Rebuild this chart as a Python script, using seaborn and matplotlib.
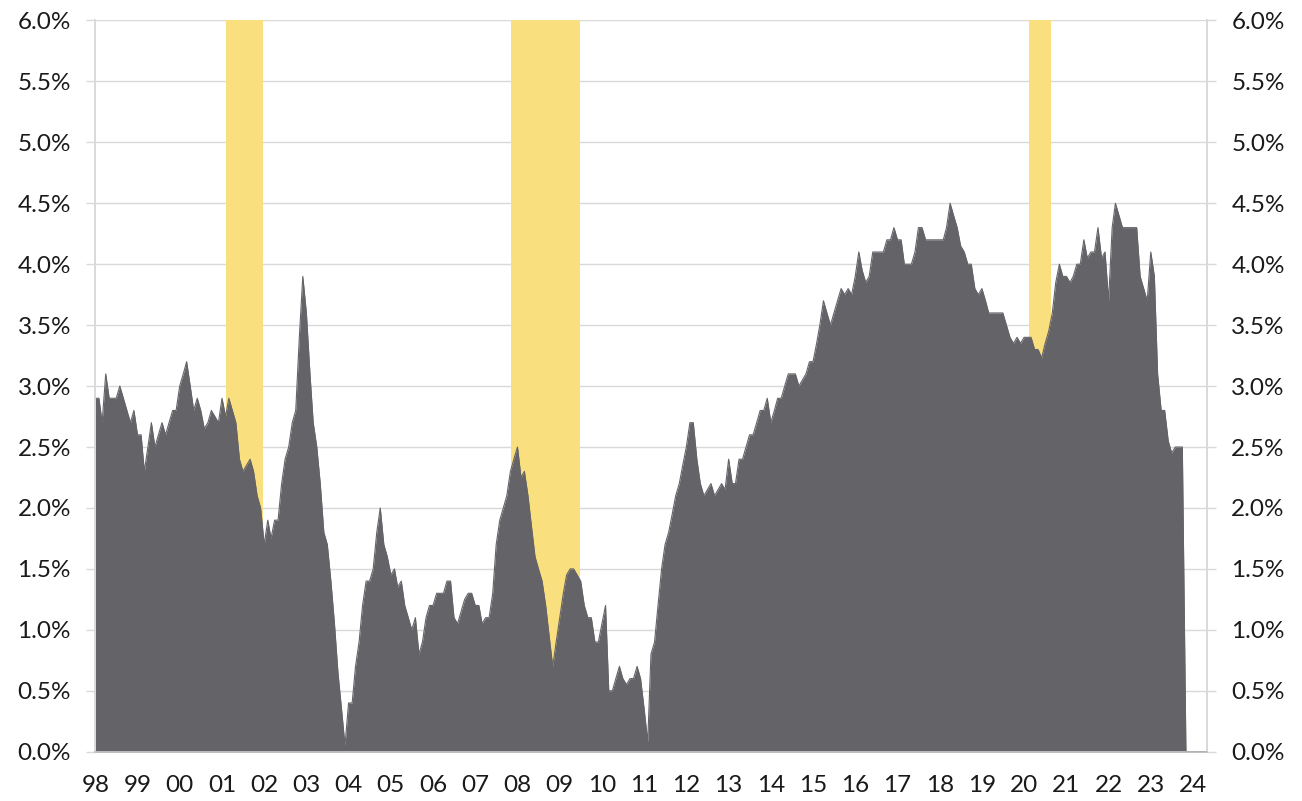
import matplotlib
matplotlib.use("Agg")
import matplotlib.pyplot as plt
from matplotlib.ticker import FuncFormatter, MultipleLocator
import numpy as np
import pandas as pd
import seaborn as sns

# Monthly rate (%) from January 1998, one list per year
y1998 = [2.9, 2.9, 2.7, 3.1, 2.9, 2.9, 2.9, 3.0, 2.9, 2.8, 2.7, 2.8]
y1999 = [2.6, 2.6, 2.3, 2.5, 2.7, 2.5, 2.6, 2.7, 2.6, 2.7, 2.8, 2.8]
y2000 = [3.0, 3.1, 3.2, 3.0, 2.8, 2.9, 2.8, 2.65, 2.7, 2.8, 2.75, 2.7]
y2001 = [2.9, 2.75, 2.9, 2.8, 2.7, 2.4, 2.3, 2.35, 2.4, 2.3, 2.1, 2.0]
y2002 = [1.7, 1.9, 1.75, 1.9, 1.9, 2.2, 2.4, 2.5, 2.7, 2.8, 3.4, 3.9]
y2003 = [3.6, 3.1, 2.7, 2.5, 2.2, 1.8, 1.7, 1.4, 1.05, 0.65, 0.35, 0.05]
y2004 = [0.4, 0.4, 0.7, 0.9, 1.2, 1.4, 1.4, 1.5, 1.8, 2.0, 1.7, 1.6]
y2005 = [1.45, 1.5, 1.35, 1.4, 1.2, 1.1, 1.0, 1.1, 0.8, 0.9, 1.1, 1.2]
y2006 = [1.2, 1.3, 1.3, 1.3, 1.4, 1.4, 1.1, 1.05, 1.15, 1.25, 1.3, 1.3]
y2007 = [1.2, 1.2, 1.05, 1.1, 1.1, 1.3, 1.7, 1.9, 2.0, 2.1, 2.3, 2.4]
y2008 = [2.5, 2.25, 2.3, 2.1, 1.85, 1.6, 1.5, 1.4, 1.2, 0.95, 0.7, 0.9]
y2009 = [1.1, 1.3, 1.45, 1.5, 1.5, 1.45, 1.4, 1.2, 1.1, 1.1, 0.9, 0.9]
y2010 = [1.05, 1.2, 0.5, 0.5, 0.6, 0.7, 0.6, 0.55, 0.6, 0.6, 0.7, 0.6]
y2011 = [0.35, 0.08, 0.8, 0.9, 1.2, 1.5, 1.7, 1.8, 1.95, 2.1, 2.2, 2.35]
y2012 = [2.5, 2.7, 2.7, 2.4, 2.2, 2.1, 2.15, 2.2, 2.1, 2.15, 2.2, 2.15]
y2013 = [2.4, 2.2, 2.2, 2.4, 2.4, 2.5, 2.6, 2.6, 2.7, 2.8, 2.8, 2.9]
y2014 = [2.7, 2.8, 2.9, 2.9, 3.0, 3.1, 3.1, 3.1, 3.0, 3.05, 3.1, 3.2]
y2015 = [3.2, 3.35, 3.5, 3.7, 3.6, 3.5, 3.6, 3.7, 3.8, 3.75, 3.8, 3.75]
y2016 = [3.9, 4.1, 3.95, 3.85, 3.9, 4.1, 4.1, 4.1, 4.1, 4.2, 4.2, 4.3]
y2017 = [4.2, 4.2, 4.0, 4.0, 4.0, 4.1, 4.3, 4.3, 4.2, 4.2, 4.2, 4.2]
y2018 = [4.2, 4.2, 4.3, 4.5, 4.4, 4.3, 4.15, 4.1, 4.0, 4.0, 3.8, 3.75]
y2019 = [3.8, 3.7, 3.6, 3.6, 3.6, 3.6, 3.6, 3.5, 3.4, 3.35, 3.4, 3.35]
y2020 = [3.4, 3.4, 3.4, 3.3, 3.3, 3.23, 3.35, 3.45, 3.6, 3.85, 4.0, 3.9]
y2021 = [3.9, 3.85, 3.9, 4.0, 4.0, 4.2, 4.05, 4.1, 4.1, 4.3, 4.05, 4.1]
y2022 = [3.7, 4.3, 4.5, 4.4, 4.3, 4.3, 4.3, 4.3, 4.3, 3.9, 3.8, 3.7]
y2023 = [4.1, 3.9, 3.1, 2.8, 2.8, 2.55, 2.45, 2.5, 2.5, 2.5, 0.0, 0.0]
y2024 = [0.0, 0.0, 0.0, 0.0, 0.0]

years = [y1998, y1999, y2000, y2001, y2002, y2003, y2004, y2005, y2006,
         y2007, y2008, y2009, y2010, y2011, y2012, y2013, y2014, y2015,
         y2016, y2017, y2018, y2019, y2020, y2021, y2022, y2023, y2024]
rates = [v for yr in years for v in yr]

# Recession periods (shaded)
recession_start = ["2001-02-08", "2007-11-07", "2020-02-16"]
recession_end = ["2001-12-22", "2009-06-27", "2020-08-22"]

tick_years = list(range(1998, 2025))
tick_labels = [f"{y % 100:02d}" for y in tick_years]

AREA = "#646368"
BAND = "#F9DF7E"
GRID = "#D9D9D9"
TEXT = "#1a1a1a"

df = pd.DataFrame({
    "date": pd.date_range("1998-01-01", periods=len(rates), freq="MS"),
    "rate": rates,
})

sns.set_theme(style="white")
plt.rcParams["font.family"] = ["Lato", "DejaVu Sans"]

fig = plt.figure(figsize=(13.02, 8.01), dpi=100)
ax = fig.add_axes([0.0732, 0.0615, 0.8538, 0.9130])

for s, e in zip(recession_start, recession_end):
    ax.axvspan(pd.Timestamp(s), pd.Timestamp(e), color=BAND, lw=0, zorder=1)

ax.fill_between(df["date"], df["rate"], 0, color=AREA, lw=0, zorder=2)
sns.lineplot(data=df, x="date", y="rate", color=AREA, lw=0.8, ax=ax, zorder=3)

ax.set_xlim(df["date"].iloc[0], df["date"].iloc[-1])
ax.set_ylim(0, 6)
ax.set_xlabel("")
ax.set_ylabel("")

ax.set_xticks([pd.Timestamp(f"{y}-01-01") for y in tick_years])
ax.set_xticklabels(tick_labels)

pct = FuncFormatter(lambda v, _: f"{v:.1f}%")
ax.yaxis.set_major_locator(MultipleLocator(0.5))
ax.yaxis.set_major_formatter(pct)
ax.yaxis.grid(True, color=GRID, lw=1.0, zorder=0)
ax.set_axisbelow(True)

right = ax.twinx()
right.set_ylim(0, 6)
right.yaxis.set_major_locator(MultipleLocator(0.5))
right.yaxis.set_major_formatter(pct)
right.grid(False)

for a in (ax, right):
    a.spines["top"].set_visible(False)
    a.spines["left"].set_color(GRID)
    a.spines["right"].set_color(GRID)
    a.spines["bottom"].set_color("#BFBFBF")
    a.spines["left"].set_linewidth(1.2)
    a.spines["right"].set_linewidth(1.2)
    a.spines["bottom"].set_linewidth(1.2)

ax.tick_params(axis="x", length=6, width=1, color=GRID, pad=11,
               labelsize=17.5, labelcolor=TEXT)
ax.tick_params(axis="y", length=6.5, width=1, color=GRID, pad=11,
               labelsize=17.5, labelcolor=TEXT)
right.tick_params(axis="y", length=6.5, width=1, color=GRID, pad=11,
                  labelsize=17.5, labelcolor=TEXT)

fig.savefig("out.png", dpi=100, facecolor="white")
